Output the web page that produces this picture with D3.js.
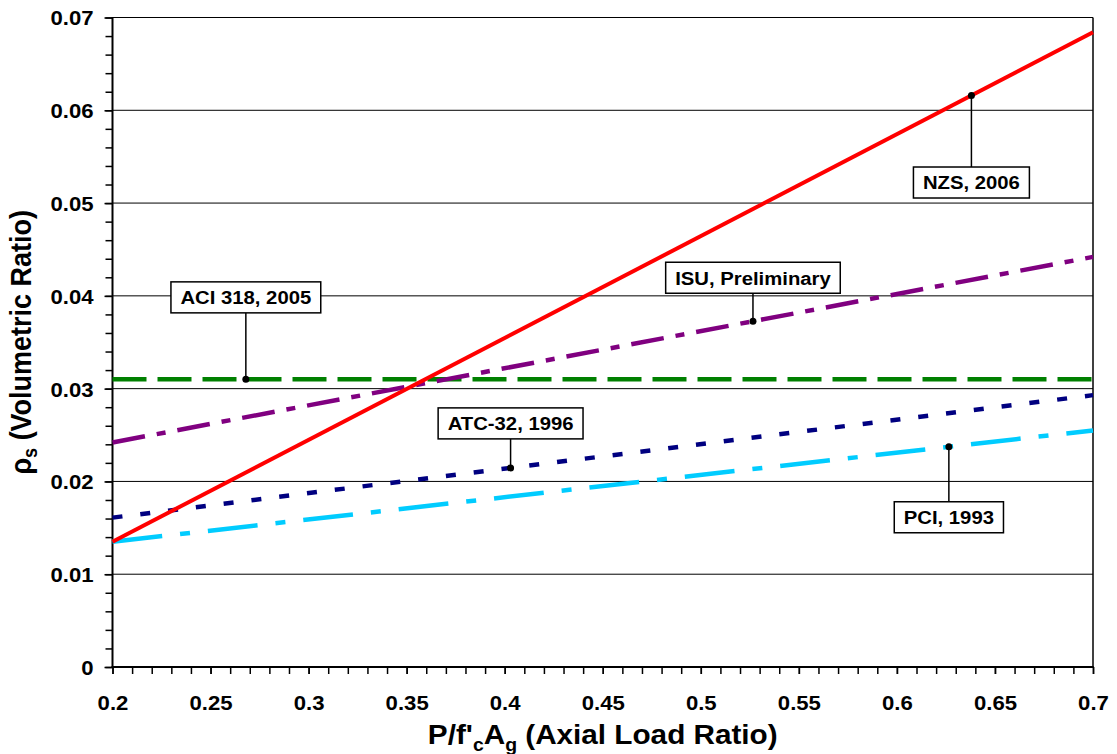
<!DOCTYPE html>
<html>
<head>
<meta charset="utf-8">
<script src="https://cdn.jsdelivr.net/npm/d3@7"></script>
<style>
  body { margin: 0; background: #fff; }
  text { font-family: "Liberation Sans", Arial, Helvetica, sans-serif; font-weight: bold; fill: #000; }
</style>
</head>
<body>
<svg id="chart" width="1117" height="754"></svg>
<script>
// Axial load ratio at which each code curve is evaluated
const loadRatio = [0.2, 0.7];

// Required volumetric ratio of confining steel for each design code
const aci318 = [0.031, 0.031];
const atc32 = [0.0161, 0.0293];
const pci1993 = [0.0135, 0.0255];
const isuPrelim = [0.0242, 0.0442];
const nzs2006 = [0.0135, 0.0684];

const seriesNames = ["ACI 318, 2005", "ATC-32, 1996", "PCI, 1993", "ISU, Preliminary", "NZS, 2006"];
const seriesValues = [aci318, atc32, pci1993, isuPrelim, nzs2006];

// Load ratio at which each series carries its callout marker
const calloutAt = [0.268, 0.403, 0.6265, 0.5266, 0.638];

const xTicks = [0.2, 0.25, 0.3, 0.35, 0.4, 0.45, 0.5, 0.55, 0.6, 0.65, 0.7];
const yTicks = [0, 0.01, 0.02, 0.03, 0.04, 0.05, 0.06, 0.07];

// ---- styling ----
const styles = [
  { color: "#008000", width: 4.5, dash: "34,11" },
  { color: "#000080", width: 4.5, dash: "10,18" },
  { color: "#00ccff", width: 4.5, dash: "50,18,10,18" },
  { color: "#800080", width: 4.5, dash: "33,12,9,12" },
  { color: "#ff0000", width: 4, dash: null }
];
// box centre offset from the marker (pixels)
const calloutOffset = [-82, -44.5, 70.5, -43.5, 87];

const SX = 1.08; // slight horizontal widening of the type
const W = 1117, H = 754;
const margin = { left: 112.5, right: 24, top: 17.5, bottom: 87 };
const x0 = margin.left, x1 = W - margin.right, y0 = H - margin.bottom, y1 = margin.top;

const svg = d3.select("#chart");
const x = d3.scaleLinear().domain([0.2, 0.7]).range([x0, x1]);
const y = d3.scaleLinear().domain([0, 0.07]).range([y0, y1]);

// horizontal gridlines
svg.append("g").selectAll("line").data(yTicks.filter(d => d > 0)).join("line")
  .attr("x1", x0).attr("x2", x1)
  .attr("y1", d => y(d)).attr("y2", d => y(d))
  .attr("stroke", "#000").attr("stroke-width", 1);

// right frame edge
svg.append("line").attr("x1", x1).attr("x2", x1).attr("y1", y1).attr("y2", y0)
  .attr("stroke", "#000").attr("stroke-width", 1.5);

// minor ticks
const yMinor = d3.range(0, 71, 2).map(v => v / 1000);
const xMinor = d3.range(20, 71, 1).map(v => v / 100);
svg.append("g").attr("transform", `translate(${x0},0)`)
  .call(d3.axisLeft(y).tickValues(yMinor).tickSize(7).tickFormat(""))
  .call(g => g.select(".domain").remove())
  .call(g => g.selectAll("line").attr("stroke-width", 1.5));
svg.append("g").attr("transform", `translate(0,${y0})`)
  .call(d3.axisBottom(x).tickValues(xMinor).tickSize(7).tickFormat(""))
  .call(g => g.select(".domain").remove())
  .call(g => g.selectAll("line").attr("stroke-width", 1.5));

// major ticks + labels
const yAxis = svg.append("g").attr("transform", `translate(${x0},0)`)
  .call(d3.axisLeft(y).tickValues(yTicks).tickSize(8).tickPadding(0)
    .tickFormat(d => d === 0 ? "0" : d3.format(".2f")(d)))
  .call(g => g.select(".domain").remove());
yAxis.selectAll("line").attr("stroke-width", 1.5);
yAxis.selectAll("text")
  .attr("x", -19 / SX).attr("dy", "0.36em")
  .attr("transform", `scale(${SX},1)`)
  .style("font-size", "20.5px").attr("fill", "#000");

const xAxis = svg.append("g").attr("transform", `translate(0,${y0})`)
  .call(d3.axisBottom(x).tickValues(xTicks).tickSize(7).tickPadding(0)
    .tickFormat(d => String(+d.toFixed(2))))
  .call(g => g.select(".domain").remove());
xAxis.selectAll("line").attr("stroke-width", 1.5);
xAxis.selectAll("text")
  .attr("y", 43.5).attr("dy", 0)
  .attr("transform", `scale(${SX},1)`)
  .style("font-size", "20.5px").attr("fill", "#000");

// axis lines
svg.append("line").attr("x1", x0).attr("x2", x0).attr("y1", y1 - 0.5).attr("y2", y0 + 1)
  .attr("stroke", "#000").attr("stroke-width", 2);
svg.append("line").attr("x1", x0 - 1).attr("x2", x1 + 0.75).attr("y1", y0).attr("y2", y0)
  .attr("stroke", "#000").attr("stroke-width", 2);

// series lines
const line = d3.line().x(d => x(d[0])).y(d => y(d[1]));
const plot = svg.append("g");
seriesValues.forEach((vals, i) => {
  const pts = loadRatio.map((r, k) => [r, vals[k]]);
  const p = plot.append("path").datum(pts)
    .attr("d", line).attr("fill", "none")
    .attr("stroke", styles[i].color).attr("stroke-width", styles[i].width);
  if (styles[i].dash) p.attr("stroke-dasharray", styles[i].dash);
});

// callouts
const interp = (vals, r) => {
  const t = (r - loadRatio[0]) / (loadRatio[1] - loadRatio[0]);
  return vals[0] + t * (vals[1] - vals[0]);
};
const fs = 18.8;
seriesNames.forEach((name, i) => {
  const mx = x(calloutAt[i]);
  const my = y(interp(seriesValues[i], calloutAt[i]));
  const cy = my + calloutOffset[i];
  const g = svg.append("g");
  const boxH = 31;
  const txt = g.append("text")
    .attr("text-anchor", "middle")
    .attr("transform", `translate(${mx},${cy + fs * 0.36}) scale(${SX},1)`)
    .style("font-size", fs + "px")
    .text(name);
  const tw = txt.node().getComputedTextLength() * SX;
  const boxW = tw + 19;
  const edgeY = calloutOffset[i] < 0 ? cy + boxH / 2 : cy - boxH / 2;
  g.insert("line", "text").attr("x1", mx).attr("x2", mx).attr("y1", my).attr("y2", edgeY)
    .attr("stroke", "#000").attr("stroke-width", 1.5);
  g.insert("rect", "text")
    .attr("x", mx - boxW / 2).attr("y", cy - boxH / 2)
    .attr("width", boxW).attr("height", boxH)
    .attr("fill", "#fff").attr("stroke", "#000").attr("stroke-width", 1.5);
  g.append("circle").attr("cx", mx).attr("cy", my).attr("r", 3.5).attr("fill", "#000");
});

// axis titles
const xt = svg.append("text")
  .attr("text-anchor", "middle")
  .attr("transform", `translate(${(x0 + x1) / 2},744) scale(${SX},1)`)
  .style("font-size", "27.5px");
xt.append("tspan").text("P/f'");
xt.append("tspan").attr("dy", 7).style("font-size", "18px").text("c");
xt.append("tspan").attr("dy", -7).text("A");
xt.append("tspan").attr("dy", 7).style("font-size", "18px").text("g");
xt.append("tspan").attr("dy", -7).text(" (Axial Load Ratio)");

const yt = svg.append("text")
  .attr("text-anchor", "middle")
  .attr("transform", `translate(31,${(y0 + y1) / 2}) rotate(-90) scale(1,${SX})`)
  .style("font-size", "27px");
yt.append("tspan").text("ρ");
yt.append("tspan").attr("dy", 6).style("font-size", "18px").text("s");
yt.append("tspan").attr("dy", -6).text(" (Volumetric Ratio)");
</script>
</body>
</html>
